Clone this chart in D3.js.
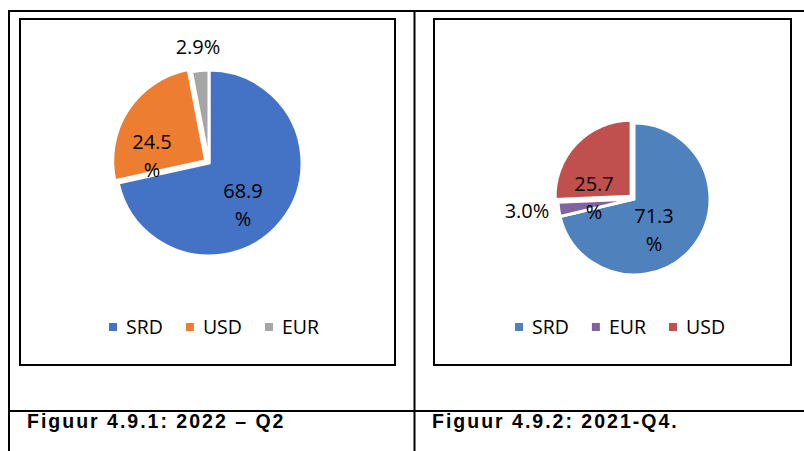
<!DOCTYPE html>
<html>
<head>
<meta charset="utf-8">
<script src="https://cdn.jsdelivr.net/npm/d3@7"></script>
<style>
  html, body { margin: 0; padding: 0; background: #fff; }
  svg { display: block; }
</style>
</head>
<body>
<svg id="chart" width="804" height="451"></svg>
<script>
// ---- data ----
const leftCategories = ["SRD", "USD", "EUR"];
const leftValues = [68.9, 24.5, 2.9];
const leftLabels = [["68.9", "%"], ["24.5", "%"], ["2.9%"]];
const leftCaption = "Figuur 4.9.1: 2022 \u2013 Q2";

const rightCategories = ["SRD", "EUR", "USD"];
const rightValues = [71.3, 3.0, 25.7];
const rightLabels = [["71.3", "%"], ["3.0%"], ["25.7", "%"]];
const rightCaption = "Figuur 4.9.2: 2021-Q4.";

// ---- layout / style ----
const W = 804, H = 451;
const svg = d3.select("#chart");
const chartFont = "'Open Sans', 'Noto Sans', sans-serif";
const captionFont = "'Liberation Sans', Arial, sans-serif";

const panels = [
  {
    categories: leftCategories, values: leftValues, labels: leftLabels, caption: leftCaption,
    colors: { SRD: "#4472C4", USD: "#ED7D31", EUR: "#A5A5A5" },
    box: { x: 20, y: 19, w: 375, h: 346 },
    cx: 209, cy: 163, r: 93,
    explode: { USD: 4 },
    // label anchor offsets (dx, first-baseline dy) relative to pie centre
    labelPos: [[34, 35], [-57, -14], [-11, -109]],
    legendX: 109, captionX: 27
  },
  {
    categories: rightCategories, values: rightValues, labels: rightLabels, caption: rightCaption,
    colors: { SRD: "#4F81BD", EUR: "#8064A2", USD: "#C0504D" },
    box: { x: 434, y: 19, w: 357, h: 346 },
    cx: 634, cy: 199, r: 76,
    explode: { USD: 4 },
    labelPos: [[20, 24], [-107, 19], [-40, -8]],
    legendX: 515, captionX: 432
  }
];

// ---- table grid ----
const grid = svg.append("g").attr("stroke", "#000").attr("stroke-width", 2);
grid.append("line").attr("x1", 8).attr("x2", W).attr("y1", 11).attr("y2", 11);
grid.append("line").attr("x1", 9).attr("x2", 9).attr("y1", 10).attr("y2", H);
grid.append("line").attr("x1", 414.5).attr("x2", 414.5).attr("y1", 10).attr("y2", H);
grid.append("line").attr("x1", 8).attr("x2", W).attr("y1", 411).attr("y2", 411);

panels.forEach(p => {
  const g = svg.append("g");
  // chart frame
  g.append("rect")
    .attr("x", p.box.x).attr("y", p.box.y)
    .attr("width", p.box.w).attr("height", p.box.h)
    .attr("fill", "#fff").attr("stroke", "#000").attr("stroke-width", 2);

  const data = p.categories.map((c, i) => ({ cat: c, value: p.values[i], label: p.labels[i], pos: p.labelPos[i] }));
  const pie = d3.pie().sort(null).value(d => d.value);
  const arc = d3.arc().innerRadius(0).outerRadius(p.r);
  const arcs = pie(data);

  const pg = g.append("g").attr("transform", `translate(${p.cx},${p.cy})`);
  pg.selectAll("path").data(arcs).join("path")
    .attr("d", arc)
    .attr("fill", d => p.colors[d.data.cat])
    .attr("stroke", "#fff").attr("stroke-width", 3).attr("stroke-linejoin", "miter")
    .attr("transform", d => {
      const e = p.explode[d.data.cat] || 0;
      const a = (d.startAngle + d.endAngle) / 2;
      return `translate(${e * Math.sin(a)},${-e * Math.cos(a)})`;
    });

  // data labels
  const lg = pg.selectAll("text.lbl").data(arcs).join("text")
    .attr("class", "lbl")
    .attr("font-family", chartFont).attr("font-size", 20)
    .attr("fill", "#000").attr("text-anchor", "middle")
    .attr("x", d => d.data.pos[0]).attr("y", d => d.data.pos[1]);
  lg.each(function(d) {
    d3.select(this).selectAll("tspan").data(d.data.label).join("tspan")
      .attr("x", d.data.pos[0])
      .attr("dy", (t, i) => i === 0 ? 0 : 28)
      .text(t => t);
  });

  // legend
  const leg = g.append("g");
  let x = p.legendX;
  p.categories.forEach(c => {
    leg.append("rect").attr("x", x).attr("y", 323).attr("width", 8).attr("height", 8)
      .attr("fill", p.colors[c]);
    const t = leg.append("text").attr("x", x + 17).attr("y", 334)
      .attr("font-family", chartFont).attr("font-size", 19.5).attr("fill", "#000")
      .text(c);
    x += 17 + t.node().getComputedTextLength() + 23;
  });

  // caption
  svg.append("text").attr("x", p.captionX).attr("y", 428)
    .attr("font-family", captionFont).attr("font-weight", "bold")
    .attr("font-size", 19.5).attr("letter-spacing", 2).attr("fill", "#000")
    .text(p.caption);
});
</script>
</body>
</html>
